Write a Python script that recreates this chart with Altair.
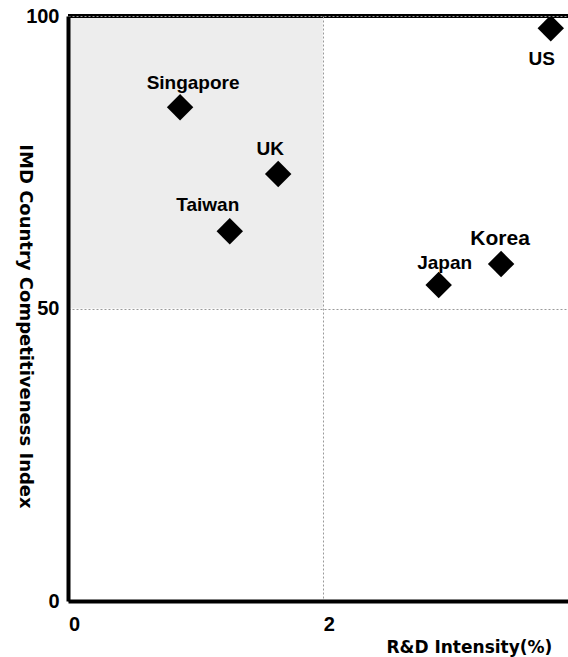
import altair as alt
import pandas as pd

# ---- data ----
countries = ["US", "Singapore", "UK", "Taiwan", "Korea", "Japan"]
rd_intensity = [3.79, 0.88, 1.65, 1.27, 3.40, 2.91]
imd_index = [97.9, 84.4, 73.0, 63.2, 57.6, 54.0]

x_ticks = [0, 2, 4]
y_ticks = [0, 50, 100]

# shaded quadrant (low R&D, high competitiveness)
quad_x = [0, 2]
quad_y = [50, 100]

df = pd.DataFrame({"country": countries, "rd": rd_intensity, "imd": imd_index})
quad = pd.DataFrame({"x0": [quad_x[0]], "x1": [quad_x[1]], "y0": [quad_y[0]], "y1": [quad_y[1]]})

# label styling (offsets in pixels from each marker)
label_style = {
    "US": dict(dx=-9, dy=31, size=19, font="Liberation Sans"),
    "Singapore": dict(dx=13, dy=-24, size=19, font="Liberation Sans"),
    "UK": dict(dx=-8, dy=-25, size=19, font="Liberation Sans"),
    "Taiwan": dict(dx=-22, dy=-26, size=19, font="Liberation Sans"),
    "Korea": dict(dx=-1, dy=-25, size=21, font="Liberation Sans Narrow, Liberation Sans"),
    "Japan": dict(dx=6, dy=-22, size=19, font="Liberation Sans"),
}

x_scale = alt.Scale(domain=[0, 4.2], range=[0, 535], nice=False, zero=False)
y_scale = alt.Scale(domain=[0, 100], nice=False, zero=False)

grid_common = dict(
    grid=True, gridColor="#9a9a9a", gridDash=[2, 2], gridWidth=1,
    domainColor="black", domainWidth=4, ticks=False, format="d",
    labelFont="Liberation Sans", labelFontWeight="bold", labelFontSize=20,
    labelColor="black", titleColor="black", titleFont="DejaVu Sans",
    titleFontWeight="bold", zindex=1, labelFlush=False,
)

x_axis = alt.Axis(
    values=x_ticks, title="R&D Intensity(%)", labelPadding=13, labelOffset=6,
    titleFontSize=17, titleX=318, titleY=51, titleAlign="left",
    titleBaseline="alphabetic", **grid_common,
)
y_axis = alt.Axis(
    values=y_ticks, title="IMD Country Competitiveness Index", labelPadding=9,
    titleFontSize=18, titleAngle=90, titleX=-44, titleY=310,
    titleAlign="center", titleBaseline="middle", **grid_common,
)

shade = alt.Chart(quad).mark_rect(color="#ededed").encode(
    x=alt.X("x0:Q", scale=x_scale, axis=x_axis),
    x2="x1:Q",
    y=alt.Y("y0:Q", scale=y_scale, axis=y_axis),
    y2="y1:Q",
)

top_border = alt.Chart(pd.DataFrame({"d": [0]})).mark_rule(
    color="black", strokeWidth=4
).encode(y=alt.datum(100), x=alt.value(0), x2=alt.value(535))

points = alt.Chart(df).mark_point(
    shape="diamond", filled=True, color="black", size=700, opacity=1
).encode(
    x=alt.X("rd:Q", scale=x_scale),
    y=alt.Y("imd:Q", scale=y_scale),
)

labels = []
for c in countries:
    st = label_style[c]
    labels.append(
        alt.Chart(df).transform_filter(alt.datum.country == c).mark_text(
            dx=st["dx"], dy=st["dy"], fontSize=st["size"], font=st["font"],
            fontWeight="bold", color="black", align="center", baseline="middle",
        ).encode(
            x=alt.X("rd:Q", scale=x_scale),
            y=alt.Y("imd:Q", scale=y_scale),
            text="country:N",
        )
    )

chart = alt.layer(shade, top_border, points, *labels).properties(
    width=500,
    height=585,
    autosize=alt.AutoSizeParams(type="none"),
    padding={"left": 68, "top": 16, "right": 0, "bottom": 56},
    background="white",
).configure_view(stroke=None)

chart.save("out.html", embed_options={"renderer": "svg", "actions": False})
